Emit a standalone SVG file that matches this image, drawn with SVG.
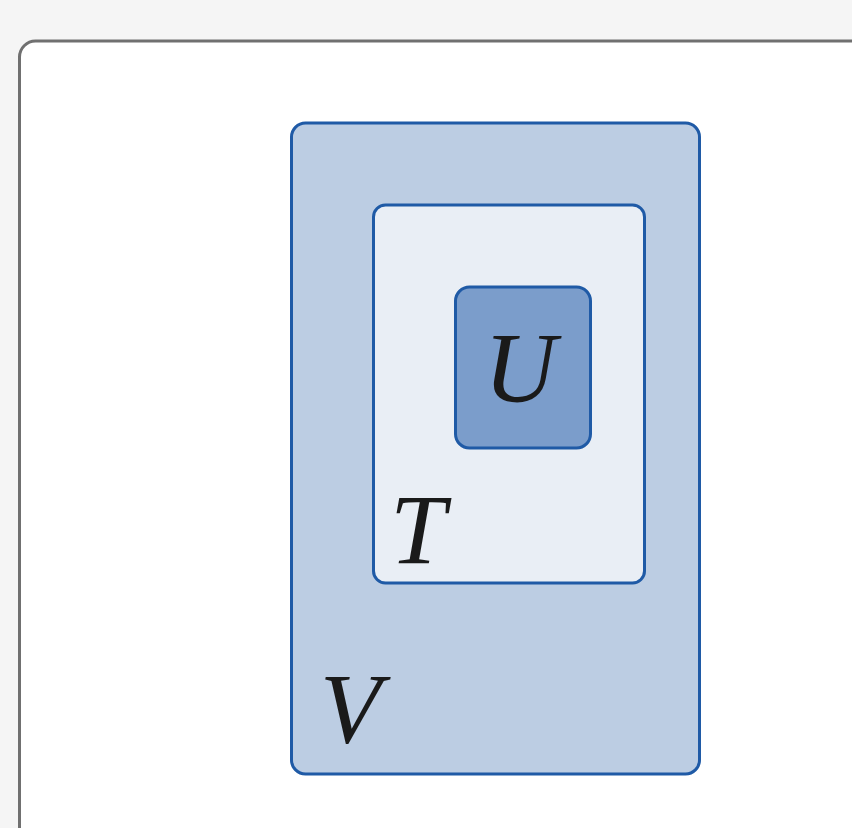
<svg xmlns="http://www.w3.org/2000/svg" width="852" height="828" viewBox="0 0 852 828">
<style>
.set{stroke:#1f5aa6;stroke-width:3}
.lbl{font-family:"Liberation Serif","Times New Roman",serif;font-style:italic;font-size:100px;fill:#1a1a1a}
</style>
<rect x="0" y="0" width="852" height="828" fill="#f5f5f5"/>
<rect x="19.5" y="41" width="850" height="820" rx="16" fill="#ffffff" stroke="#707070" stroke-width="3"/>
<g id="V">
<rect class="set" x="291.5" y="123" width="408" height="651" rx="14" fill="#bccde3"/>
<text class="lbl" x="320" y="742">V</text>
</g>
<g id="T">
<rect class="set" x="373.5" y="205" width="271" height="378" rx="12" fill="#e9eef5"/>
<text class="lbl" x="390" y="563">T</text>
</g>
<g id="U">
<rect class="set" x="455.5" y="287" width="135" height="161" rx="14" fill="#7b9dcb"/>
<text class="lbl" x="520" y="401" text-anchor="middle">U</text>
</g>
<g id="connectors"/>
</svg>
